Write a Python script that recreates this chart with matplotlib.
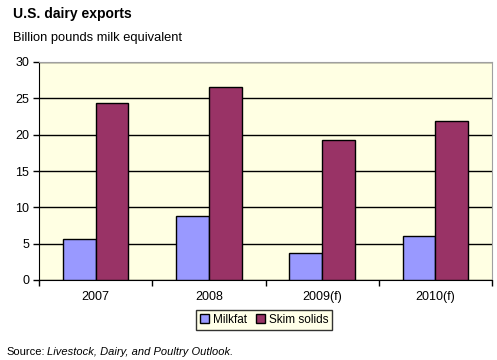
import numpy as np
import matplotlib.pyplot as plt

plt.rcParams['font.family'] = ['Liberation Sans', 'DejaVu Sans']

years = ["2007", "2008", "2009(f)", "2010(f)"]
milkfat = [5.6, 8.8, 3.7, 6.0]
skim_solids = [24.4, 26.6, 19.2, 21.9]

fig = plt.figure(figsize=(4.97, 3.6), dpi=100)
ax = fig.add_axes([39/497, 80/360, 453/497, 218/360])

x = np.arange(len(years))
w = 0.29
ax.bar(x - w/2, milkfat, w, color='#9999FF', edgecolor='black', linewidth=1, label='Milkfat', zorder=3)
ax.bar(x + w/2, skim_solids, w, color='#993366', edgecolor='black', linewidth=1, label='Skim solids', zorder=3)

ax.set_facecolor('#FFFFE3')
ax.set_xlim(-0.5, len(years) - 0.5)
ax.set_ylim(0, 30)
ax.set_yticks(range(0, 31, 5))
ax.yaxis.grid(True, color='black', linewidth=1, zorder=0)
ax.set_axisbelow(True)

ax.set_xticks(x)
ax.set_xticklabels(years, fontsize=9)
ax.tick_params(axis='x', length=0, pad=8)
ax.set_xticks(np.arange(-0.5, len(years)), minor=True)
ax.tick_params(axis='x', which='minor', length=4, width=1, color='black')
ax.tick_params(axis='y', labelsize=9, length=4, width=1, pad=3)

for s in ['top', 'right']:
    ax.spines[s].set_color('#A0A0A0')
for s in ['left', 'bottom']:
    ax.spines[s].set_color('black')

leg = fig.legend(loc='center', bbox_to_anchor=(264/497, 1 - 320/360), ncol=2, fontsize=8.5,
                 frameon=True, fancybox=False, edgecolor='black', facecolor='#FFFFE3',
                 handlelength=0.8, handleheight=0.8, handletextpad=0.3, columnspacing=0.8,
                 borderpad=0.3, borderaxespad=0)
leg.get_frame().set_linewidth(1)

fig.text(13/497, 1 - 14/360, "U.S. dairy exports", fontsize=10, fontweight='bold', va='center')
fig.text(13/497, 1 - 38/360, "Billion pounds milk equivalent", fontsize=9.3, va='center')
fig.text(6/497, 1 - 352/360, "Source:", fontsize=8, va='center')
fig.text(47/497, 1 - 352/360, "Livestock, Dairy, and Poultry Outlook.", fontsize=8, style='italic', va='center')

fig.savefig('out.png', dpi=100)
